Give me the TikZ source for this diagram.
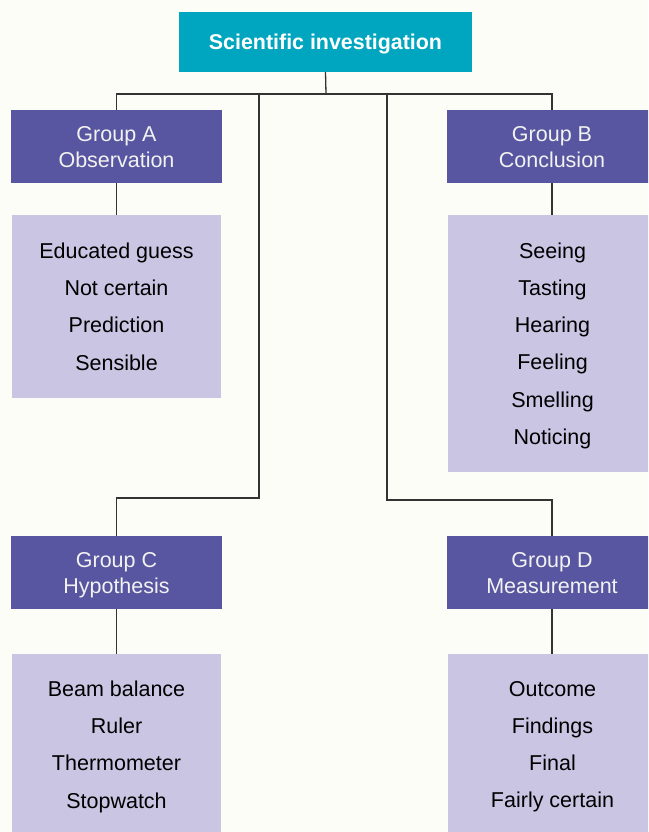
\documentclass[tikz,border=0pt]{standalone}
\usepackage{fontspec}
\setmainfont{Liberation Sans}
\definecolor{pagebg}{HTML}{FDFDF8}
\definecolor{titleteal}{HTML}{00A5C0}
\definecolor{groupblue}{HTML}{5856A0}
\definecolor{listlilac}{HTML}{C9C5E3}
\definecolor{linkgray}{HTML}{333333}
\begin{document}
\begin{tikzpicture}[x=1pt,y=-1pt,
  titlebox/.style={fill=titleteal,text=white,minimum width=293pt,minimum height=60pt,
    inner sep=0pt,text depth=0pt,font=\fontsize{21.4pt}{26pt}\selectfont\bfseries},
  groupbox/.style={fill=groupblue,text=white!95!black,minimum width=211pt,minimum height=73pt,
    inner sep=0pt,text depth=0pt,align=center,font=\fontsize{21.5pt}{26pt}\selectfont},
  listbox/.style={fill=listlilac,text=black,minimum width=209pt,
    inner sep=0pt,text depth=0pt,align=center,font=\fontsize{21.5pt}{37.3pt}\selectfont},
  link/.style={draw=linkgray,line width=1.3pt}]
  \useasboundingbox (0,0) rectangle (648,832);
  \clip (0,0) rectangle (648,832);
  \fill[pagebg] (0,0) rectangle (648,832);

  % top node
  \node[titlebox] (top) at (325.5,42) {Scientific investigation};

  % group headers
  \node[groupbox] (gA) at (116.5,146.5) {Group A\\Observation};
  \node[groupbox] (gB) at (552,146.5) {Group B\\Conclusion};
  \node[groupbox] (gC) at (116.5,572.5) {Group C\\Hypothesis};
  \node[groupbox] (gD) at (552,572.5) {Group D\\Measurement};

  % word lists
  \node[listbox,minimum height=183pt] (lA) at (116.5,306.5)
    {Educated guess\\Not certain\\Prediction\\Sensible};
  \node[listbox,minimum height=257pt] (lB) at (552.5,343.5)
    {Seeing\\Tasting\\Hearing\\Feeling\\Smelling\\Noticing};
  \node[listbox,minimum height=181pt] (lC) at (116.5,744.5)
    {Beam balance\\Ruler\\Thermometer\\Stopwatch};
  \node[listbox,minimum height=181pt] (lD) at (552.5,744.5)
    {Outcome\\Findings\\Final\\Fairly certain};

  % connector junctions
  \coordinate (bus) at (326,94);
  \coordinate (jL) at (259,94);
  \coordinate (jR) at (387,94);
  \coordinate (kL) at (259,498);
  \coordinate (kR) at (387,500);

  \draw[link] (top.south) -- (bus);
  \draw[link] (gA.north) |- (bus) -| (gB.north);
  \draw[link] (jL) -- (kL) -| (gC.north);
  \draw[link] (jR) -- (kR) -| (gD.north);

  \draw[link] (gA.south) -- (gA.south |- lA.north);
  \draw[link] (gB.south) -- (gB.south |- lB.north);
  \draw[link] (gC.south) -- (gC.south |- lC.north);
  \draw[link] (gD.south) -- (gD.south |- lD.north);
\end{tikzpicture}
\end{document}
